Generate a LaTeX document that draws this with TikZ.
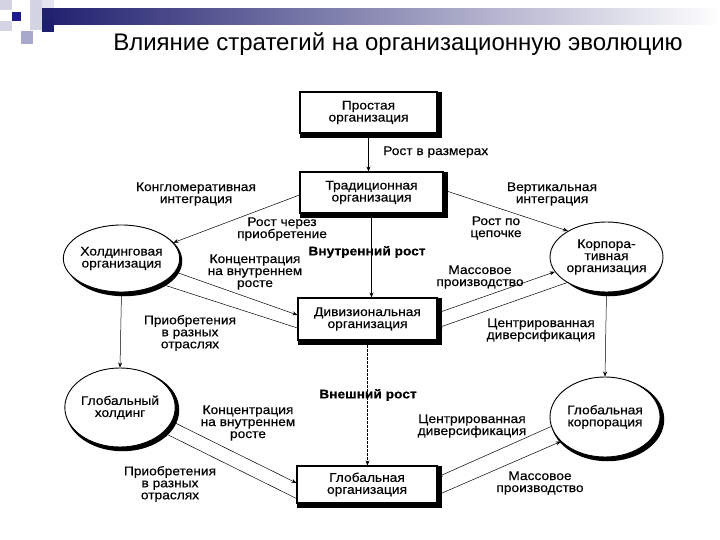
\documentclass[tikz,border=0pt]{standalone}
\usepackage{fontspec}
\setmainfont{Liberation Sans}
\newfontfamily\diagfont{Liberation Sans}[FakeStretch=1.1,FakeBold=0.4]
\usetikzlibrary{shapes.geometric,arrows.meta}
\pgfdeclarelayer{background}
\pgfsetlayers{background,main}
\definecolor{navy}{HTML}{1E1E6E}
\definecolor{deco1}{HTML}{D4D4E4}
\definecolor{deco2}{HTML}{1C1C90}
\definecolor{deco3}{HTML}{A8A8CC}
\begin{document}
\begin{tikzpicture}[x=1pt,y=-1pt,
  txt/.style={font=\diagfont\fontsize{12.5}{12}\selectfont,align=center,inner sep=0pt},
  bold/.style={font=\diagfont\bfseries\fontsize{12.5}{12}\selectfont,inner sep=0pt},
  box/.style={txt,draw,line width=1.1pt,fill=white,minimum width=#1},
  oval/.style={txt,ellipse,draw,line width=0.9pt,fill=white},
  conn/.style={line width=0.5pt,-{Stealth[length=5pt,width=4pt]}},
  shd/.style={draw=black,line width=3.5pt,fill=black},
]
\useasboundingbox (0,0) rectangle (720,540);
% decoration
\shade[left color=navy,right color=white] (40,9) rectangle (720,25);
\fill[deco1] (0,0) rectangle (12,10);
\fill[deco1] (0,21) rectangle (12,31);
\fill[deco1] (30,0) rectangle (42,30);
\fill[deco1!60] (42,0) rectangle (54,8);
\fill[deco2] (12,12) rectangle (21,21);
\fill[navy] (42,20) rectangle (54,32);
\fill[deco3] (21,31) rectangle (33,44);
% title
\node[font=\fontsize{24}{26}\selectfont,inner sep=0pt] (title) at (398,44) {Влияние стратегий на организационную эволюцию};
% boxes
\node[box=137pt,minimum height=41pt] (simp) at (368.5,112.5) {Простая\\организация};
\node[box=143pt,minimum height=41pt] (trad) at (371.5,192.5) {Традиционная\\организация};
\node[box=139pt,minimum height=42pt] (div) at (367.5,319) {Дивизиональная\\организация};
\node[box=140pt,minimum height=37pt] (gorg) at (367,484.5) {Глобальная\\организация};
% ellipses
\node[oval,minimum width=113pt,minimum height=67pt] (hold) at (121.5,258.5) {Холдинговая\\организация};
\node[oval,minimum width=103pt,minimum height=70pt] (korp) at (606.5,257) {Корпора-\\тивная\\организация};
\node[oval,minimum width=110pt,minimum height=79pt] (ghold) at (120,407.5) {Глобальный\\холдинг};
\node[oval,minimum width=110pt,minimum height=80pt] (gcorp) at (605,417) {Глобальная\\корпорация};
% shadows
\begin{pgfonlayer}{background}
\foreach \n in {simp,trad,div,gorg}
  \path[shd] ([xshift=2.5pt,yshift=-2.5pt]\n.south west) rectangle ([xshift=2.5pt,yshift=-2.5pt]\n.north east);
\path[shd] ([xshift=2.5pt,yshift=-2.5pt]hold.center) ellipse [x radius=56.5pt,y radius=33.5pt];
\path[shd] ([xshift=2.5pt,yshift=-2.5pt]korp.center) ellipse [x radius=51.5pt,y radius=35pt];
\path[shd] ([xshift=2.5pt,yshift=-2.5pt]ghold.center) ellipse [x radius=55pt,y radius=39.5pt];
\path[shd] ([xshift=2.5pt,yshift=-2.5pt]gcorp.center) ellipse [x radius=55pt,y radius=40pt];
\end{pgfonlayer}
% labels
\node[txt,anchor=west] (l1) at (383,152) {Рост в размерах};
\node[txt] (l2) at (196,194) {Конгломеративная\\интеграция};
\node[txt] (l3) at (282,229) {Рост через\\приобретение};
\node[txt] (l4) at (552,194) {Вертикальная\\интеграция};
\node[txt] (l5) at (496,228) {Рост по\\цепочке};
\node[bold] (l6) at (367,252) {Внутренний рост};
\node[txt] (l7) at (255,272) {Концентрация\\на внутреннем\\росте};
\node[txt] (l8) at (190,333) {Приобретения\\в разных\\отраслях};
\node[txt] (l9) at (480,277) {Массовое\\производство};
\node[txt] (l10) at (541,330) {Центрированная\\диверсификация};
\node[bold] (l11) at (368,395) {Внешний рост};
\node[txt] (l12) at (248,423) {Концентрация\\на внутреннем\\росте};
\node[txt] (l13) at (170,484) {Приобретения\\в разных\\отраслях};
\node[txt] (l14) at (472,426) {Центрированная\\диверсификация};
\node[txt] (l15) at (540,483) {Массовое\\производство};
% connectors
\draw[conn] (simp.south) -- (simp.south |- trad.north);
\draw[conn] (trad.south) -- (trad.south |- div.north);
\draw[conn,dash pattern=on 3pt off 1pt] (div.south) -- (div.south |- gorg.north);
\draw[conn] ([yshift=-2.5pt]trad.west) -- (hold.17);
\draw[conn] ([yshift=2.5pt]trad.east) -- (korp.146);
\draw[conn] (hold.-14) -- ([yshift=4pt]div.west);
\draw[conn] ([yshift=-9pt]div.west) -- (hold.-33);
\draw[conn] ([yshift=6pt]div.east) -- (korp.196);
\draw[conn] (korp.213) -- ([yshift=-9pt]div.east);
\draw[conn] (hold.south) -- (ghold.north);
\draw[conn] (korp.south) -- (gcorp.north);
\draw[conn] (ghold.-15) -- ([yshift=1.5pt]gorg.west);
\draw[conn] ([yshift=-14pt]gorg.west) -- (ghold.-30);
\draw[conn] (gcorp.190) -- ([yshift=7.5pt]gorg.east);
\draw[conn] ([yshift=-10.5pt]gorg.east) -- (gcorp.209);
\end{tikzpicture}
\end{document}
